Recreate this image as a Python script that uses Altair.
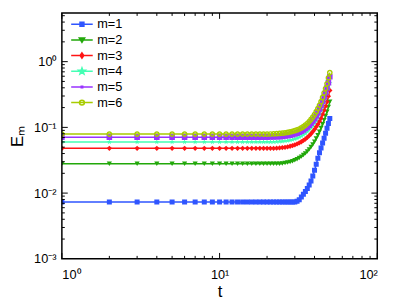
import altair as alt
import pandas as pd

# ---- data ----
t = list(range(1, 51))

m1 = [0.0073] * 30 + [0.0075, 0.0079, 0.0087, 0.0096, 0.0106, 0.0118, 0.0133, 0.0153, 0.0182, 0.0222,
                      0.0275, 0.0338, 0.041, 0.0487, 0.0578, 0.0686, 0.0815, 0.0967, 0.115, 0.136]
m2 = [0.028] * 24 + [0.0283, 0.0287, 0.0292, 0.0298, 0.0306, 0.0316, 0.0328, 0.0342, 0.0359, 0.0379,
                     0.0402, 0.043, 0.0463, 0.0502, 0.055, 0.0607, 0.0676, 0.076, 0.086, 0.098,
                     0.112, 0.129, 0.149, 0.173, 0.205, 0.245]
m3 = [0.048] * 22 + [0.0483, 0.0487, 0.0492, 0.0498, 0.0506, 0.0516, 0.0528, 0.0543, 0.056, 0.058,
                     0.0604, 0.0632, 0.0665, 0.0703, 0.0748, 0.080, 0.0862, 0.0935, 0.102, 0.112,
                     0.124, 0.138, 0.158, 0.182, 0.21, 0.245, 0.298, 0.365]
m4 = [0.060] * 21 + [0.0602, 0.0605, 0.0609, 0.0614, 0.062, 0.0628, 0.0638, 0.065, 0.0665, 0.0684,
                     0.0707, 0.0735, 0.0769, 0.081, 0.0858, 0.0915, 0.0983, 0.106, 0.116, 0.127,
                     0.141, 0.157, 0.18, 0.206, 0.238, 0.277, 0.325, 0.39, 0.47]
m5 = [0.071] * 20 + [0.0712, 0.0715, 0.0719, 0.0724, 0.073, 0.0738, 0.0748, 0.076, 0.0775, 0.0793,
                     0.0815, 0.0842, 0.0874, 0.0913, 0.096, 0.1016, 0.108, 0.116, 0.1255, 0.137,
                     0.151, 0.167, 0.19, 0.217, 0.25, 0.29, 0.34, 0.40, 0.48, 0.59]
m6 = [0.079] * 20 + [0.0793, 0.0797, 0.0802, 0.0808, 0.0816, 0.0826, 0.0838, 0.0853, 0.087, 0.089,
                     0.0915, 0.0945, 0.098, 0.1025, 0.108, 0.1145, 0.1225, 0.132, 0.1435, 0.157,
                     0.173, 0.193, 0.217, 0.246, 0.285, 0.333, 0.39, 0.46, 0.565, 0.68]

series_names = ["m=1", "m=2", "m=3", "m=4", "m=5", "m=6"]
series_values = [m1, m2, m3, m4, m5, m6]
colors = ["#2f55ff", "#22a80a", "#ff1414", "#44ffb4", "#9933ff", "#a8cc00"]

x_major = [1, 10, 100]
x_minor = [2, 3, 4, 5, 6, 7, 8, 9, 20, 30, 40, 50, 60, 70, 80, 90]
y_major = [0.001, 0.01, 0.1, 1]
y_minor = [0.002, 0.003, 0.004, 0.005, 0.006, 0.007, 0.008, 0.009,
           0.02, 0.03, 0.04, 0.05, 0.06, 0.07, 0.08, 0.09,
           0.2, 0.3, 0.4, 0.5, 0.6, 0.7, 0.8, 0.9, 2, 3, 4, 5]

# ---- styling ----
W, H = 322, 251
FONT = "Liberation Sans"
STAR = "M0,-1L0.235,-0.324L0.951,-0.309L0.38,0.124L0.588,0.809L0,0.4L-0.588,0.809L-0.38,0.124L-0.951,-0.309L-0.235,-0.324Z"
RING = "M1,0A1,1,0,1,1,-1,0A1,1,0,1,1,1,0ZM0.5,0A0.5,0.5,0,1,0,-0.5,0A0.5,0.5,0,1,0,0.5,0Z"
plot_shapes = ["square", "triangle-down", "diamond", STAR, "square", RING]
plot_sizes = [26, 34, 34, 60, 9, 42]
# legend symbols (unit = 5 px): a line from -1 to 3.4 with a (stroke-filled) marker at 1.2
legend_shapes = [
    "M-1,0H3.4M0.8,-0.4H1.6V0.4H0.8ZM1.05,-0.15H1.35V0.15H1.05Z",
    "M-1,0H3.4M0.65,-0.4H1.75L1.2,0.5ZM1.0,-0.22H1.4L1.2,0.15Z",
    "M-1,0H3.4M1.2,-0.55L1.58,0L1.2,0.55L0.82,0ZM1.2,-0.25L1.38,0L1.2,0.25L1.02,0Z",
    "M-1,0H3.4M1.2,-0.7L1.37,-0.23L1.87,-0.22L1.47,0.09L1.61,0.57L1.2,0.28L0.79,0.57L0.93,0.09L0.53,-0.22L1.03,-0.23ZM1.2,-0.25V0.2",
    "M-1,0H3.4M1.05,-0.15H1.35V0.15H1.05Z",
    "M-1,0H3.4M1.7,0A0.5,0.5,0,1,1,0.7,0A0.5,0.5,0,1,1,1.7,0Z",
]

rows = []
for name, vals in zip(series_names, series_values):
    for ti, v in zip(t, vals):
        rows.append({"t": ti, "E": v, "m": name})
df = pd.DataFrame(rows)

xscale = alt.Scale(type="log", domain=[1, 100])
yscale = alt.Scale(type="log", domain=[0.001, 5.5])
cscale = alt.Scale(domain=series_names, range=colors)

x_label = "datum.value == 1 ? '10⁰' : datum.value == 10 ? '10¹' : '10²'"
y_label = ("datum.value < 0.005 ? '10⁻³' : datum.value < 0.05 ? '10⁻²' : "
           "datum.value < 0.5 ? '10⁻¹' : '10⁰'")

x_axis = alt.Axis(values=x_major, labelExpr=x_label, ticks=False, domain=False, grid=False,
                  title="t", titleFontSize=17, titleFont=FONT, titleFontWeight="normal",
                  titlePadding=2, labelFont=FONT, labelFontSize=13, labelPadding=10,
                  labelColor="black", titleColor="black")
y_axis = alt.Axis(values=y_major, labelExpr=y_label, ticks=False, domain=False, grid=False,
                  title="Eₘ", titleFontSize=17, titleFont=FONT, titleFontWeight="normal",
                  titlePadding=7, labelFont=FONT, labelFontSize=13, labelPadding=6,
                  labelColor="black", titleColor="black")

base = alt.Chart(df)

lines = base.mark_line(strokeWidth=1.5, clip=True).encode(
    x=alt.X("t:Q", scale=xscale, axis=x_axis),
    y=alt.Y("E:Q", scale=yscale, axis=y_axis),
    color=alt.Color("m:N", scale=cscale, legend=None),
    detail="m:N",
)

points = base.mark_point(filled=True, opacity=1, clip=True).encode(
    x=alt.X("t:Q", scale=xscale, axis=x_axis),
    y=alt.Y("E:Q", scale=yscale, axis=y_axis),
    color=alt.Color("m:N", scale=cscale, legend=None),
    shape=alt.Shape("m:N", scale=alt.Scale(domain=series_names, range=plot_shapes), legend=None),
    size=alt.Size("m:N", scale=alt.Scale(domain=series_names, range=plot_sizes), legend=None),
)

# legend-only layer (its points lie outside the clipped plot area)
leg_df = pd.DataFrame({"m": series_names, "t": [0.5] * 6, "E": [0.01] * 6})
leg_spec = alt.Legend(title=None, orient="none", legendX=8, legendY=5, labelFont=FONT,
                      labelFontSize=13, labelColor="black", symbolSize=100, symbolStrokeWidth=1.5,
                      labelOffset=15, rowPadding=2, symbolOpacity=1, padding=0)
legend_layer = alt.Chart(leg_df).mark_point(filled=False, clip=True, strokeWidth=1.5, opacity=1).encode(
    x=alt.X("t:Q", scale=xscale, axis=x_axis),
    y=alt.Y("E:Q", scale=yscale, axis=y_axis),
    color=alt.Color("m:N", scale=cscale, legend=leg_spec),
    shape=alt.Shape("m:N", scale=alt.Scale(domain=series_names, range=legend_shapes), legend=leg_spec),
)

# inward ticks on all four sides and the frame
xmaj = pd.DataFrame({"v": x_major})
xmin = pd.DataFrame({"v": x_minor})
ymaj = pd.DataFrame({"v": y_major})
ymin = pd.DataFrame({"v": y_minor})

def xticks(d, y0, y1):
    return alt.Chart(d).mark_rule(color="black", strokeWidth=1).encode(
        x=alt.X("v:Q", scale=xscale, axis=x_axis), y=alt.value(y0), y2=alt.value(y1))

def yticks(d, x0, x1):
    return alt.Chart(d).mark_rule(color="black", strokeWidth=1, clip=True).encode(
        y=alt.Y("v:Q", scale=yscale, axis=y_axis), x=alt.value(x0), x2=alt.value(x1))

tick_layers = [
    xticks(xmaj, H, H - 6), xticks(xmin, H, H - 3), xticks(xmaj, 0, 6), xticks(xmin, 0, 3),
    yticks(ymaj, 0, 6), yticks(ymin, 0, 3), yticks(ymaj, W, W - 6), yticks(ymin, W, W - 3),
]

frame = alt.Chart(pd.DataFrame({"k": [0]})).mark_rect(
    fill=None, stroke="black", strokeWidth=1.5).encode(
    x=alt.value(0), x2=alt.value(W), y=alt.value(0), y2=alt.value(H))

chart = alt.layer(lines, points, legend_layer, *tick_layers, frame).resolve_scale(
    shape="independent", size="independent", color="independent"
).properties(
    width=W, height=H,
    autosize=alt.AutoSizeParams(type="none"),
    padding={"left": 55, "top": 2, "right": 14, "bottom": 42},
).configure_view(stroke=None)

chart.save("out.html", embed_options={"renderer": "svg", "actions": False})
